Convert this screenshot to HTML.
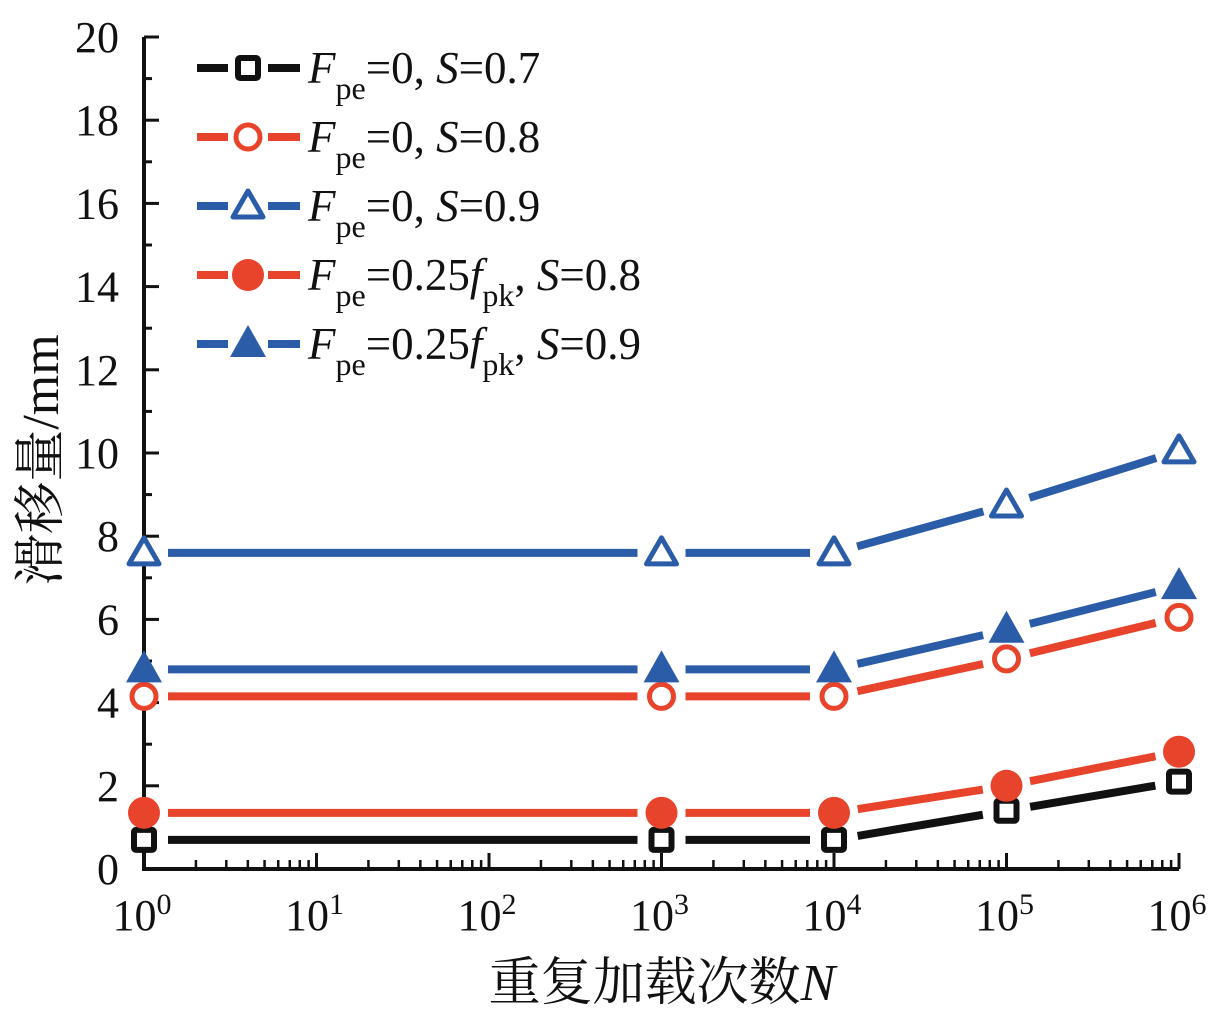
<!DOCTYPE html>
<html><head><meta charset="utf-8"><style>
body{margin:0;background:#fff;}
svg text{font-family:"Liberation Serif","Noto Serif CJK SC",serif;fill:#111;}
</style></head><body>
<svg id="c" width="1217" height="1013" xmlns="http://www.w3.org/2000/svg"></svg>
<script>
const xExp=[0,3,4,5,6];
const sA=[0.7,0.7,0.7,1.4,2.1];
const sB=[4.15,4.15,4.15,5.05,6.05];
const sC=[7.6,7.6,7.6,8.75,10.05];
const sD=[1.35,1.35,1.35,2.0,2.82];
const sE=[4.8,4.8,4.8,5.75,6.8];
const yTicks=[0,2,4,6,8,10,12,14,16,18,20];
const xTicks=[0,1,2,3,4,5,6];
const RED="#e8432b",BLUE="#2a5ca8",BLK="#111";
const X0=144,X1=1179,Y0=869,Y1=37;
const xs=e=>X0+(X1-X0)*e/6;
const ys=v=>Y0-(Y0-Y1)*v/20;
const svg=document.getElementById('c');
const NS="http://www.w3.org/2000/svg";
function mk(t,a,p){const el=document.createElementNS(NS,t);for(const k in a)el.setAttribute(k,a[k]);(p||svg).appendChild(el);return el;}
let ax=mk('path',{d:`M${X0} ${Y1}V${Y0}H${X1}`,stroke:BLK,'stroke-width':4,fill:'none'});


for(let v=0;v<=20;v++){mk('line',{x1:X0,x2:X0+(v%2?8:15),y1:ys(v),y2:ys(v),stroke:BLK,'stroke-width':3});}
yTicks.forEach(v=>{const t=mk('text',{x:119,y:ys(v)+15,'text-anchor':'end','font-size':44});t.textContent=v;

});
xTicks.forEach(e=>{mk('line',{x1:xs(e),x2:xs(e),y1:Y0,y2:Y0-16,stroke:BLK,'stroke-width':3});
 if(e<6)for(let k=2;k<10;k++){const x=xs(e+Math.log10(k));mk('line',{x1:x,x2:x,y1:Y0,y2:Y0-9,stroke:BLK,'stroke-width':2.5});}
 const t=mk('text',{x:xs(e)-2,y:930,'text-anchor':'middle','font-size':44});t.innerHTML=`10<tspan dy="-16" font-size="30">${e}</tspan>`;
 
 });
let yt=mk('text',{x:0,y:0,'font-size':52,'text-anchor':'middle',transform:'translate(58,460) rotate(-90)'});yt.textContent='滑移量/mm';


let xt=mk('text',{x:662,y:1000,'font-size':52,'text-anchor':'middle'});xt.innerHTML='重复加载次数<tspan font-style="italic">N</tspan>';


function marker(type,col,x,y,g){
 if(type==='sq')mk('rect',{x:x-10,y:y-10,width:20,height:20,fill:'#fff',stroke:col,'stroke-width':6,rx:2},g);
 else if(type==='oc')mk('circle',{cx:x,cy:y,r:12,fill:'#fff',stroke:col,'stroke-width':5},g);
 else if(type==='fc')mk('circle',{cx:x,cy:y,r:16,fill:col},g);
 else if(type==='ot')mk('path',{d:`M${x} ${y-15}L${x+15} ${y+11}L${x-15} ${y+11}Z`,fill:'#fff',stroke:col,'stroke-width':5,'stroke-linejoin':'round'},g);
 else mk('path',{d:`M${x} ${y-19}L${x+18} ${y+13}L${x-18} ${y+13}Z`,fill:col},g);
}
const series=[[sA,BLK,'sq'],[sB,RED,'oc'],[sC,BLUE,'ot'],[sD,RED,'fc'],[sE,BLUE,'ft']];
series.forEach(([d,col,tp],si)=>{
 const g=mk('g',{});
 
 
 for(let i=0;i<d.length-1;i++){
  const xa=xs(xExp[i]),ya=ys(d[i]),xb=xs(xExp[i+1]),yb=ys(d[i+1]);
  const L=Math.hypot(xb-xa,yb-ya),ux=(xb-xa)/L,uy=(yb-ya)/L,gap=24;
  mk('line',{x1:xa+ux*gap,y1:ya+uy*gap,x2:xb-ux*gap,y2:yb-uy*gap,stroke:col,'stroke-width':8},g);
 }
 d.forEach((v,i)=>marker(tp,col,xs(xExp[i]),ys(v),g));
 const ly=68+si*69;
 const lg=mk('g',{});
 
 
 mk('line',{x1:197,x2:228,y1:ly,y2:ly,stroke:col,'stroke-width':8},lg);
 mk('line',{x1:268,x2:300,y1:ly,y2:ly,stroke:col,'stroke-width':8},lg);
 marker(tp,col,248,ly,lg);
 const t=mk('text',{x:308,y:ly+15,'font-size':45},lg);
 const fv=si<3?'0':'0.25<tspan font-style="italic">f</tspan><tspan dy="16" font-size="32">pk</tspan><tspan dy="-16">,</tspan>';
 const sv=['0.7','0.8','0.9','0.8','0.9'][si];
 t.innerHTML=`<tspan font-style="italic">F</tspan><tspan dy="16" font-size="32">pe</tspan><tspan dy="-16">=${fv}${si<3?',':''} </tspan><tspan font-style="italic">S</tspan>=${sv}`;
});
</script>
</body></html>
